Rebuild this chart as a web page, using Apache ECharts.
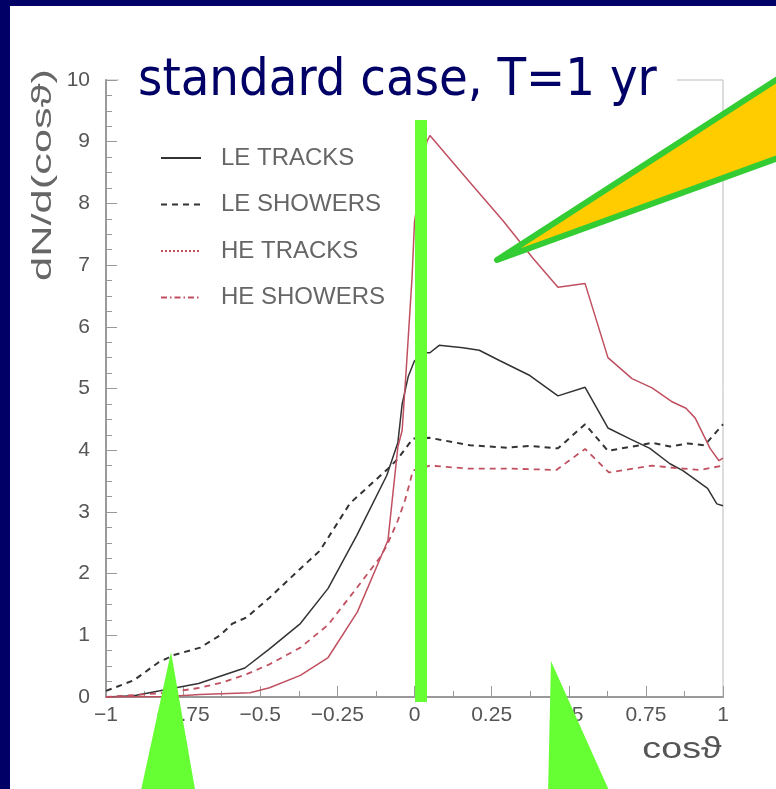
<!DOCTYPE html>
<html>
<head>
<meta charset="utf-8">
<script src="https://cdn.jsdelivr.net/npm/echarts@6/dist/echarts.min.js"></script>
<style>
html,body{margin:0;padding:0;background:#fff;}
#chart{width:776px;height:789px;}
</style>
</head>
<body>
<div id="chart"></div>
<script>
// ---- data (cos theta, dN/d(cos theta)) ----
const seriesNames = ['LE TRACKS', 'LE SHOWERS', 'HE TRACKS', 'HE SHOWERS'];

const leTracks = [[-1,0],[-0.91,0.02],[-0.825,0.1],[-0.70,0.22],[-0.55,0.47],[-0.47,0.78],[-0.37,1.19],
  [-0.28,1.76],[-0.187,2.62],[-0.09,3.59],[-0.054,4.12],[-0.04,4.75],[-0.02,5.2],[0,5.45],[0.035,5.58],
  [0.05,5.58],[0.08,5.70],[0.157,5.66],[0.21,5.62],[0.277,5.45],[0.374,5.21],[0.465,4.88],[0.553,5.02],
  [0.627,4.36],[0.70,4.18],[0.763,4.03],[0.828,3.78],[0.87,3.67],[0.95,3.38],[0.98,3.13],[1.0,3.10]];

const leShowers = [[-1,0.1],[-0.91,0.27],[-0.83,0.56],[-0.78,0.68],[-0.695,0.80],[-0.63,1.0],[-0.59,1.19],
  [-0.544,1.29],[-0.47,1.61],[-0.37,2.08],[-0.307,2.37],[-0.209,3.14],[-0.086,3.70],[-0.054,3.86],
  [-0.005,4.19],[0.05,4.2],[0.18,4.08],[0.3,4.04],[0.374,4.07],[0.465,4.03],[0.553,4.42],[0.627,3.99],
  [0.73,4.08],[0.77,4.12],[0.828,4.06],[0.886,4.11],[0.94,4.08],[1.0,4.42]];

const heTracks = [[-1,0],[-0.80,0.01],[-0.695,0.04],[-0.533,0.07],[-0.47,0.15],[-0.37,0.35],[-0.28,0.64],
  [-0.185,1.38],[-0.086,2.54],[-0.054,4.05],[-0.04,4.32],[-0.025,5.45],[-0.008,6.8],[0.0,7.7],[0.04,9.0],
  [0.05,9.10],[0.18,8.34],[0.287,7.72],[0.384,7.11],[0.465,6.64],[0.553,6.70],[0.627,5.50],[0.705,5.16],
  [0.77,5.01],[0.833,4.79],[0.88,4.68],[0.91,4.52],[0.958,4.03],[0.987,3.83],[1.0,3.87]];

const heShowers = [[-1,0],[-0.80,0.07],[-0.695,0.15],[-0.62,0.24],[-0.544,0.37],[-0.47,0.53],[-0.37,0.80],
  [-0.28,1.17],[-0.19,1.75],[-0.112,2.26],[-0.09,2.45],[-0.054,2.86],[-0.03,3.2],[-0.005,3.67],[0.05,3.75],
  [0.18,3.70],[0.32,3.70],[0.46,3.68],[0.553,4.02],[0.63,3.64],[0.77,3.75],[0.85,3.71],[0.925,3.68],[1.0,3.75]];

const xMin = -1, xMax = 1, xStep = 0.25;
const yMin = 0, yMax = 10, yStep = 1;
const titleText = 'standard case, T=1 yr';
const yTitle = 'dN/d(cos\u03D1)';
const xTitle = 'cos\u03D1';

// ---- chart ----
const chart = echarts.init(document.getElementById('chart'), null, {renderer: 'canvas'});
const labelFont = {color: '#555', fontSize: 21, fontFamily: 'Liberation Sans, Arial, sans-serif'};
const fmt = v => (v < 0 ? '\u2212' + Math.abs(v) : String(v));

const option = {
  backgroundColor: '#fff',
  animation: false,
  grid: {left: 106, right: 53, top: 80, bottom: 92, show: true, borderColor: '#bbb', borderWidth: 1, backgroundColor: 'transparent'},
  legend: {
    orient: 'vertical', left: 160, top: 146, padding: 0,
    itemWidth: 40, itemHeight: 24, itemGap: 22.5,
    itemStyle: {opacity: 0},
    textStyle: {color: '#666', fontSize: 24, lineHeight: 24, fontFamily: 'Liberation Sans, Arial, sans-serif', padding: [0, 0, 0, 15]},
    data: [
      {name: seriesNames[0]},
      {name: seriesNames[1]},
      {name: seriesNames[2], lineStyle: {type: [2, 2]}},
      {name: seriesNames[3], lineStyle: {type: [6, 3, 1.5, 3]}}
    ]
  },
  xAxis: {
    type: 'value', min: xMin, max: xMax, interval: xStep,
    axisLine: {show: true, onZero: false, lineStyle: {color: '#999', width: 2}},
    axisTick: {show: true, inside: true, length: 11, lineStyle: {color: '#999', width: 1}},
    minorTick: {show: true, splitNumber: 2, length: 6, lineStyle: {color: '#999', width: 1}},
    splitLine: {show: false},
    axisLabel: Object.assign({margin: 8, formatter: fmt}, labelFont)
  },
  yAxis: {
    type: 'value', min: yMin, max: yMax, interval: yStep,
    axisLine: {show: true, onZero: false, lineStyle: {color: '#999', width: 2}},
    axisTick: {show: true, inside: true, length: 11, lineStyle: {color: '#999', width: 1}},
    minorTick: {show: true, splitNumber: 4, length: 6, lineStyle: {color: '#999', width: 1}},
    splitLine: {show: false},
    axisLabel: Object.assign({margin: 16, formatter: fmt}, labelFont)
  },
  series: [
    {name: seriesNames[0], type: 'line', data: leTracks, symbol: 'none', color: '#333',
     lineStyle: {color: '#333', width: 1.5, type: 'solid'}},
    {name: seriesNames[1], type: 'line', data: leShowers, symbol: 'none', color: '#333',
     lineStyle: {color: '#333', width: 2, type: [6, 5]}},
    {name: seriesNames[2], type: 'line', data: heTracks, symbol: 'none', color: '#c05060',
     lineStyle: {color: '#c05060', width: 1.5, type: 'solid'}},
    {name: seriesNames[3], type: 'line', data: heShowers, symbol: 'none', color: '#c05060',
     lineStyle: {color: '#c05060', width: 1.8, type: [6, 5]}}
  ],
  graphic: [
    // white box behind title (covers frame top)
    {type: 'rect', z: 50, shape: {x: 119, y: 55, width: 558, height: 50}, style: {fill: '#fff'}},
    {type: 'text', z: 51, x: 138, y: 81,
     style: {text: titleText, fill: '#000066', fontSize: 52, fontFamily: 'DejaVu Sans Condensed, DejaVu Sans, sans-serif',
             align: 'left', verticalAlign: 'middle'}},
    // axis titles
    {type: 'text', z: 20, x: 43, y: 175, rotation: Math.PI / 2, scaleX: 1.55,
     style: {text: yTitle, fill: '#666', fontSize: 28, fontFamily: 'Liberation Sans, Arial, DejaVu Sans, sans-serif',
             align: 'center', verticalAlign: 'middle'}},
    {type: 'text', z: 20, x: 682, y: 750, scaleX: 1.3,
     style: {text: xTitle, fill: '#555', fontSize: 29, fontFamily: 'Liberation Sans, Arial, DejaVu Sans, sans-serif',
             align: 'center', verticalAlign: 'middle'}},
    // annotations
    {type: 'rect', z: 100, shape: {x: 415, y: 120, width: 12, height: 582}, style: {fill: '#66ff33'}},
    {type: 'polygon', z: 100, shape: {points: [[497, 260], [800, 64.5], [800, 150]]},
     style: {fill: '#ffcc00', stroke: '#33cc33', lineWidth: 6, lineJoin: 'round'}},
    {type: 'polygon', z: 100, shape: {points: [[171, 652], [140, 795], [196, 795]]}, style: {fill: '#66ff33'}},
    {type: 'polygon', z: 100, shape: {points: [[551, 661], [548, 795], [611, 795]]}, style: {fill: '#66ff33'}},
    // navy slide border
    {type: 'rect', z: 110, shape: {x: 0, y: 0, width: 10, height: 789}, style: {fill: '#000066'}},
    {type: 'rect', z: 110, shape: {x: 0, y: 0, width: 776, height: 6}, style: {fill: '#000066'}}
  ]
};
chart.setOption(option);
</script>
</body>
</html>
